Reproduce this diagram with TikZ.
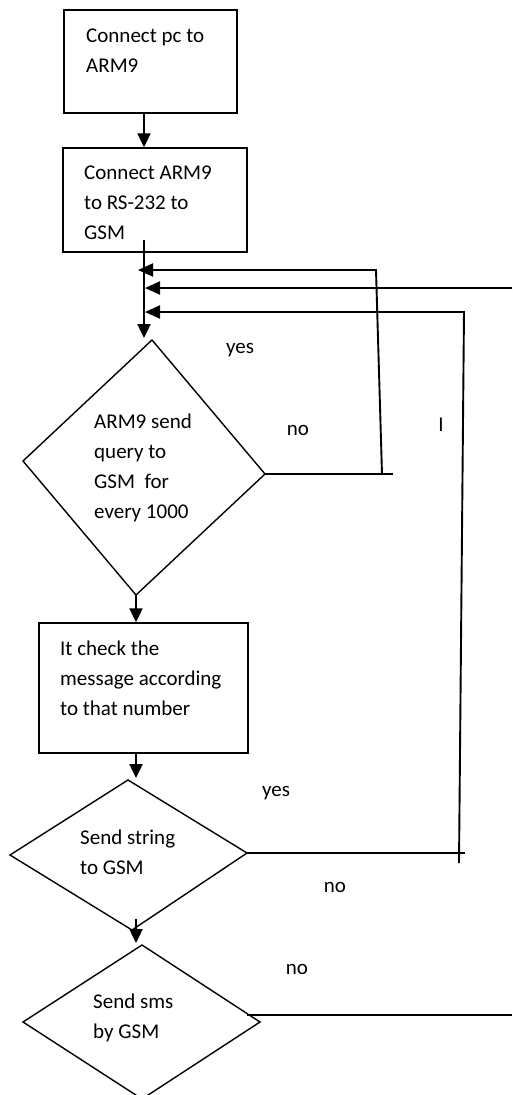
\documentclass[tikz,border=0pt]{standalone}
\usepackage{fontspec}
\setmainfont{Carlito}
\usetikzlibrary{arrows.meta}

\begin{document}
\begin{tikzpicture}[x=1pt,y=-1pt,
  stepbox/.style={draw, line width=1.5pt, inner sep=0pt},
  flow/.style={-{Triangle[length=14pt,width=13pt]}, line width=2.4pt},
  back/.style={-{Triangle[length=15pt,width=13pt]}, line width=1.9pt},
  edge/.style={line width=1.4pt, line join=miter},
  lbl/.style={font=\fontsize{21}{30}\selectfont, inner sep=0pt, align=left}]
\useasboundingbox (0,0) rectangle (512,1095);

% process boxes
\node[stepbox, minimum width=173pt, minimum height=103pt] (b1) at (150.5,61.5) {};
\node[stepbox, minimum width=184pt, minimum height=104pt] (b2) at (155,200) {};
\node[stepbox, minimum width=209pt, minimum height=130pt] (b3) at (143.5,688) {};

\node[lbl, anchor=west] (t1) at (86,50.5) {Connect pc to\\ARM9};
\node[lbl, anchor=west] (t2) at (84,202.5) {Connect ARM9\\to RS-232 to\\GSM};
\node[lbl, anchor=west] (t3) at (60,678) {It check the\\message according\\to that number};

% decision shapes (drawn as free quadrilaterals)
\coordinate (d1t) at (152,340);
\coordinate (d1r) at (265,474);
\coordinate (d1b) at (136,595);
\coordinate (d1l) at (23,461);
\draw[edge] (d1t) -- (d1r) -- (d1b) -- (d1l) -- cycle;
\node[lbl, anchor=west] (t4) at (94,468) {ARM9 send\\query to\\GSM~ for\\every 1000};

\coordinate (d2t) at (128,780);
\coordinate (d2r) at (247,853);
\coordinate (d2b) at (132,930);
\coordinate (d2l) at (10,855);
\draw[edge] (d2t) -- (d2r) -- (d2b) -- (d2l) -- cycle;
\node[lbl, anchor=west] (t5) at (80,852.5) {Send string\\to GSM};

\coordinate (d3t) at (142,945);
\coordinate (d3r) at (260,1022);
\coordinate (d3b) at (142,1099);
\coordinate (d3l) at (23,1022);
\draw[edge] (d3t) -- (d3r) -- (d3b) -- (d3l) -- cycle;
\node[lbl, anchor=west] (t6) at (93,1018) {Send sms\\by GSM};

% main flow
\coordinate (cx) at (144,0);
\coordinate (m2) at (144,240);
\coordinate (d1in) at (144,338);
\coordinate (b3x) at (136,0);
\coordinate (d2in) at (136,778);
\coordinate (d2out) at (136,919);
\coordinate (d3in) at (136,943);
\draw[flow] (b1.south -| cx) -- (b2.north -| cx);
\draw[flow] (m2) -- (d1in);
\draw[flow] (d1b) -- (b3.north -| d1b);
\draw[flow] (b3.south -| b3x) -- (d2in);
\draw[flow] (d2out) -- (d3in);

% return paths
\coordinate (f1e) at (393,474);
\coordinate (f1b) at (382,474);
\coordinate (f1c) at (376,270);
\coordinate (f1tip) at (138,270);
\draw[edge] (d1r) -- (f1e);
\draw[back] (f1b) -- (f1c) -- (f1tip);

\coordinate (f2s) at (512,288);
\coordinate (f2tip) at (145,288);
\draw[back] (f2s) -- (f2tip);

\coordinate (f3s) at (459,863);
\coordinate (f3c) at (464,312);
\coordinate (f3tip) at (145,312);
\coordinate (f3e) at (465,853);
\draw[back] (f3s) -- (f3c) -- (f3tip);
\draw[edge] (d2r) -- (f3e);

\coordinate (d3o) at (247,1015);
\coordinate (d3e) at (512,1015);
\draw[edge] (d3o) -- (d3e);

% branch labels
\node[lbl] (y1) at (240,350) {yes};
\node[lbl] (n1) at (298,430) {no};
\node[lbl] (i1) at (441,425) {I};
\node[lbl] (y2) at (276,793) {yes};
\node[lbl] (n2) at (335,887) {no};
\node[lbl] (n3) at (297,969) {no};
\end{tikzpicture}
\end{document}
